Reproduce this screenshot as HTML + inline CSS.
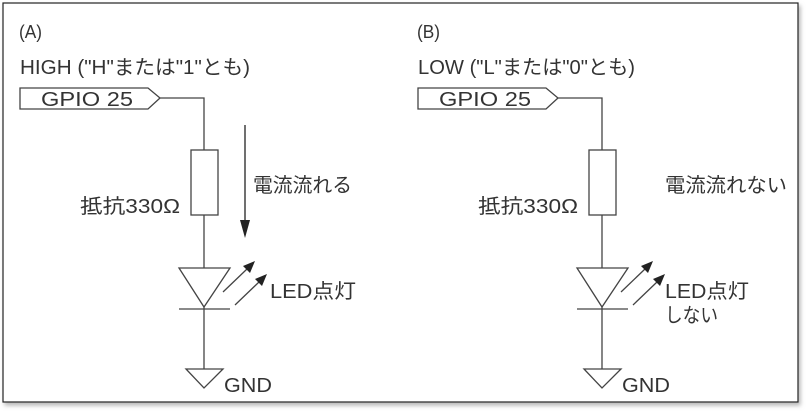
<!DOCTYPE html>
<html><head><meta charset="utf-8"><style>
html,body{margin:0;padding:0;background:#fff;}
svg{display:block;}
text{font-family:"Liberation Sans","Noto Sans CJK JP",sans-serif;fill:#333;}
</style></head><body>
<svg width="808" height="412" viewBox="0 0 808 412" xmlns="http://www.w3.org/2000/svg">
<defs>
<filter id="sh" x="-5%" y="-5%" width="110%" height="110%"><feDropShadow dx="2" dy="3" stdDeviation="2" flood-color="#888" flood-opacity="0.6"/></filter>
<g id="circ" stroke="#444" stroke-width="1.3" fill="none">
<polygon points="20,88 148,88 160,98 148,109 20,109" fill="#fff"/>
<polyline points="160,98 204,98 204,150"/>
<rect x="191" y="150" width="27" height="65" fill="#fff"/>
<line x1="204" y1="215" x2="204" y2="369"/>
<polygon points="179,268 230,268 204,307" fill="#fff"/>
<line x1="179" y1="309" x2="230" y2="309"/>
<polygon points="186,369 223,369 204,388" fill="#fff"/>
<line x1="223" y1="292" x2="247" y2="269"/>
<polygon points="255,261 243,266 250,273" fill="#222" stroke="none"/>
<line x1="235" y1="305" x2="259" y2="282"/>
<polygon points="267,274 255,279 262,286" fill="#222" stroke="none"/>
</g>
</defs>
<rect x="3" y="3" width="795" height="399" fill="#fff" stroke="#222" stroke-width="1.2" filter="url(#sh)"/>
<use href="#circ"/>
<use href="#circ" x="398"/>
<g stroke="#222" stroke-width="1.3">
<line x1="245" y1="125" x2="245" y2="222"/>
</g>
<polygon points="240,220 250,220 245,238" fill="#222"/>
<text x="19" y="38" font-size="18" textLength="23" lengthAdjust="spacingAndGlyphs">(A)</text>
<text x="20" y="74" font-size="20" textLength="230" lengthAdjust="spacingAndGlyphs">HIGH ("H"または"1"とも)</text>
<text x="41" y="106" font-size="20" textLength="92" lengthAdjust="spacingAndGlyphs">GPIO 25</text>
<text x="80" y="213" font-size="20" textLength="100" lengthAdjust="spacingAndGlyphs">抵抗330Ω</text>
<text x="253" y="192" font-size="20" textLength="99" lengthAdjust="spacingAndGlyphs">電流流れる</text>
<text x="270" y="298" font-size="20" textLength="86" lengthAdjust="spacingAndGlyphs">LED点灯</text>
<text x="224" y="392" font-size="20" textLength="48" lengthAdjust="spacingAndGlyphs">GND</text>
<text x="417" y="38" font-size="18" textLength="23" lengthAdjust="spacingAndGlyphs">(B)</text>
<text x="418" y="74" font-size="20" textLength="217" lengthAdjust="spacingAndGlyphs">LOW ("L"または"0"とも)</text>
<text x="439" y="106" font-size="20" textLength="92" lengthAdjust="spacingAndGlyphs">GPIO 25</text>
<text x="478" y="213" font-size="20" textLength="100" lengthAdjust="spacingAndGlyphs">抵抗330Ω</text>
<text x="665" y="192" font-size="20" textLength="122" lengthAdjust="spacingAndGlyphs">電流流れない</text>
<text x="665" y="298" font-size="20" textLength="84" lengthAdjust="spacingAndGlyphs">LED点灯</text>
<text x="665" y="322" font-size="20" textLength="53" lengthAdjust="spacingAndGlyphs">しない</text>
<text x="622" y="392" font-size="20" textLength="48" lengthAdjust="spacingAndGlyphs">GND</text>
</svg>
</body></html>
